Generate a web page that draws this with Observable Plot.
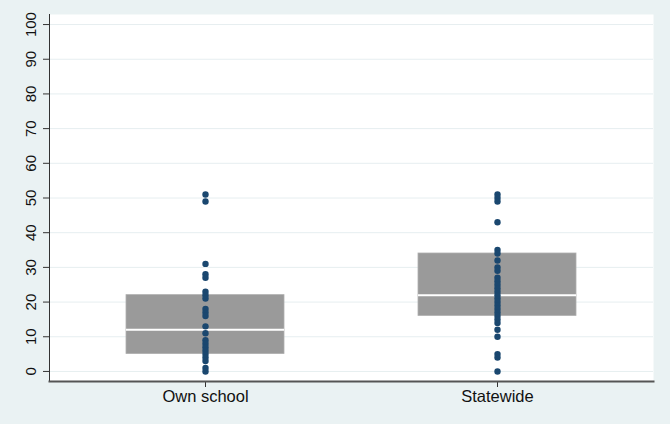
<!DOCTYPE html>
<html>
<head>
<meta charset="utf-8">
<script src="https://cdn.jsdelivr.net/npm/d3@7"></script>
<script src="https://cdn.jsdelivr.net/npm/@observablehq/plot@0.6"></script>
<style>
  html, body { margin: 0; padding: 0; background: #EAF2F3; }
  #chart svg { display: block; }
</style>
</head>
<body>
<div id="chart"></div>
<script>
const categories = ["Own school", "Statewide"];
const q1 = [5, 16];
const medians = [12, 22];
const q3 = [22, 34];
const ownSchool = [51, 49, 31, 28, 27, 23, 22, 21, 18, 17, 16, 13, 11, 9, 8, 7, 6, 5, 4, 3, 1, 0];
const statewide = [51, 50, 49, 43, 35, 34, 32, 30, 29, 27, 26, 25, 24, 23, 22, 21, 20, 19, 18, 17, 16, 15, 14, 12, 10, 5, 4, 0];
const yTicks = [0, 10, 20, 30, 40, 50, 60, 70, 80, 90, 100];

const boxes = categories.map((c, i) => ({cat: c, q1: q1[i], median: medians[i], q3: q3[i]}));
const points = [
  ...ownSchool.map(v => ({cat: categories[0], value: v})),
  ...statewide.map(v => ({cat: categories[1], value: v}))
];

const chart = Plot.plot({
  width: 670,
  height: 424,
  marginLeft: 49,
  marginRight: 17,
  marginTop: 14,
  marginBottom: 43,
  style: {background: "#EAF2F3", fontFamily: "'Liberation Sans', Arial, sans-serif", color: "#111"},
  x: {type: "band", domain: categories, paddingInner: 0.459, paddingOuter: 0.2625, label: null},
  y: {domain: [-2.9, 102.9], label: null},
  marks: [
    Plot.frame({fill: "white", stroke: null}),
    Plot.ruleY(yTicks, {stroke: "#e6eef0", strokeWidth: 1}),
    Plot.barY(boxes, {x: "cat", y1: "q1", y2: "q3", fill: "#9a9a9a", stroke: "#b0b0b0", strokeWidth: 0.8}),
    Plot.tickY(boxes, {x: "cat", y: "median", stroke: "white", strokeWidth: 2}),
    Plot.dot(points, {x: "cat", y: "value", fill: "#1a476f", r: 3.2, stroke: null}),
    Plot.axisY({ticks: yTicks, tickSize: 6, tickFormat: () => "", stroke: "#333"}),
    Plot.text(yTicks, {y: d => d, text: d => String(d), frameAnchor: "left", dx: -18, rotate: -90, textAnchor: "middle", lineAnchor: "middle", fontSize: 15, fill: "#111"}),
    Plot.axisX({tickSize: 6, tickPadding: 3, fontSize: 16.5, stroke: "#333", fill: "#111"}),
    Plot.frame({anchor: "left", stroke: "#333", strokeWidth: 1}),
    Plot.frame({anchor: "bottom", stroke: "#555", strokeWidth: 2})
  ]
});
document.getElementById("chart").appendChild(chart);
</script>
</body>
</html>
